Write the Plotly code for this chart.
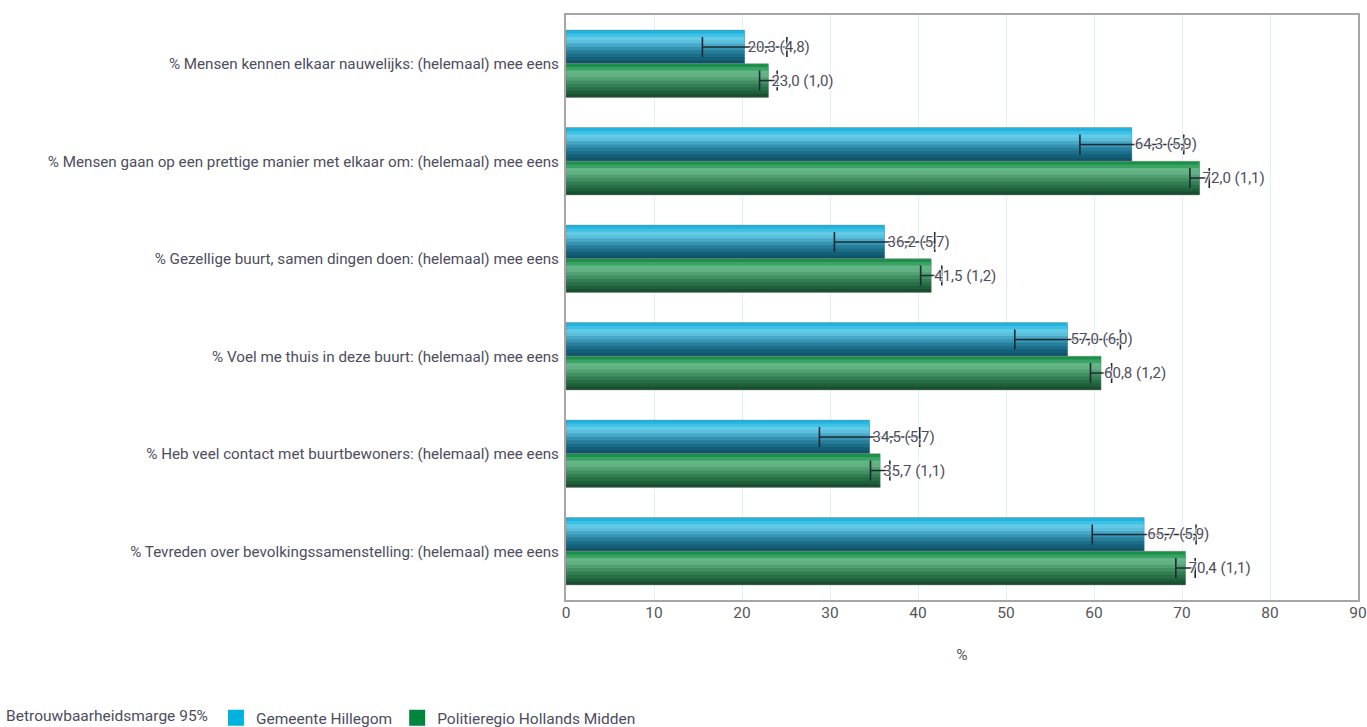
import plotly.graph_objects as go

categories = [
    "% Mensen kennen elkaar nauwelijks: (helemaal) mee eens",
    "% Mensen gaan op een prettige manier met elkaar om: (helemaal) mee eens",
    "% Gezellige buurt, samen dingen doen: (helemaal) mee eens",
    "% Voel me thuis in deze buurt: (helemaal) mee eens",
    "% Heb veel contact met buurtbewoners: (helemaal) mee eens",
    "% Tevreden over bevolkingssamenstelling: (helemaal) mee eens",
]
hillegom_values = [20.3, 64.3, 36.2, 57.0, 34.5, 65.7]
hillegom_margin = [4.8, 5.9, 5.7, 6.0, 5.7, 5.9]
hm_values = [23.0, 72.0, 41.5, 60.8, 35.7, 70.4]
hm_margin = [1.0, 1.1, 1.2, 1.2, 1.1, 1.1]
x_ticks = [0, 10, 20, 30, 40, 50, 60, 70, 80, 90]

FONT = "Roboto, sans-serif"
TXT = "#4d4d5c"
HALO = ("1px 1px 1px rgba(255,255,255,0.85), -1px -1px 1px rgba(255,255,255,0.85), "
        "1px -1px 1px rgba(255,255,255,0.85), -1px 1px 1px rgba(255,255,255,0.85)")

# gradient approximation (top -> bottom) for each series
blue_grad = ["#1db5df", "#3fc0e4", "#62cbe8", "#5bbfdc", "#46a8c6", "#3592b0",
             "#267e9b", "#1b6d88", "#145f78", "#0f546b"]
green_grad = ["#1a9148", "#3aa265", "#63b686", "#62b083", "#51a073", "#418f63",
              "#337f54", "#286f47", "#1f603b", "#184f30"]

HALF = 0.345  # height of each series' bar in category units


def fmt(v):
    return f"{v:.1f}".replace(".", ",")


fig = go.Figure()


def add_series(name, values, margins, grad, sign_top, legend_color):
    n = len(grad)
    strip = HALF / n
    top = -HALF if sign_top else 0.0
    for k, col in enumerate(grad):
        start = k * strip
        w = min(strip * 1.8, HALF - start)
        fig.add_trace(go.Bar(
            y=categories, x=values, orientation="h",
            offset=top + start, width=w,
            marker=dict(color=col, line=dict(width=0)),
            showlegend=False, hoverinfo="skip",
        ))
    # outline + error bars
    fig.add_trace(go.Bar(
        y=categories, x=values, orientation="h", name=name,
        offset=top, width=HALF,
        marker=dict(color="rgba(0,0,0,0)", line=dict(color="rgba(120,120,120,0.45)", width=1)),
        error_x=dict(type="data", array=margins, visible=True, color="#1f2b30",
                     thickness=1.6, width=10),
        showlegend=False,
    ))


def add_labels(values, margins, sign_top):
    top = -HALF if sign_top else 0.0
    fig.add_trace(go.Bar(
        y=categories, x=values, orientation="h",
        offset=top, width=HALF,
        marker=dict(color="rgba(0,0,0,0)", line=dict(width=0)),
        text=[f"{fmt(v)} ({fmt(m)})" for v, m in zip(values, margins)],
        textposition="outside", cliponaxis=False,
        textfont=dict(family=FONT, size=15, color=TXT, shadow=HALO),
        showlegend=False, hoverinfo="skip",
    ))


def add_legend(name, legend_color):
    fig.add_trace(go.Scatter(
        x=[None], y=[None], mode="markers", name=name,
        marker=dict(color=legend_color, symbol="square", size=16),
        showlegend=True,
    ))


add_series("Gemeente Hillegom", hillegom_values, hillegom_margin, blue_grad, True, "#00b2dd")
add_series("Politieregio Hollands Midden", hm_values, hm_margin, green_grad, False, "#00853f")
add_labels(hillegom_values, hillegom_margin, True)
add_labels(hm_values, hm_margin, False)
add_legend("Gemeente Hillegom", "#00b2dd")
add_legend("Politieregio Hollands Midden", "#00853f")

fig.update_layout(
    width=1367, height=727,
    barmode="overlay",
    paper_bgcolor="white", plot_bgcolor="white",
    margin=dict(l=566, r=9, t=15, b=127, autoexpand=False),
    font=dict(family=FONT, size=15, color=TXT),
    xaxis=dict(
        range=[0, 90], tickvals=x_ticks, showgrid=True, gridcolor="#dcf1f9", gridwidth=1,
        showline=True, linecolor="#a6a6a6", linewidth=2, mirror=True,
        zeroline=False, ticks="", ticklabelstandoff=-3, automargin=False,
        tickfont=dict(size=15.5, color="#555"),
        title=dict(text="%", font=dict(size=15.5, color="#555"), standoff=29),
    ),
    yaxis=dict(
        categoryorder="array", categoryarray=categories, autorange="reversed",
        showline=True, linecolor="#a6a6a6", linewidth=2, mirror=True,
        showgrid=False, ticks="", ticklabelstandoff=2, automargin=False,
        tickfont=dict(size=15.2, color=TXT),
    ),
    legend=dict(
        orientation="h", xref="container", yref="container",
        x=0.003, y=0.012, xanchor="left", yanchor="middle",
        title=dict(text="Betrouwbaarheidsmarge 95%", side="left",
                   font=dict(size=15.5, color=TXT)),
        font=dict(size=15.5, color=TXT),
        traceorder="normal",
    ),
)

fig.write_html("out.html", config={"displayModeBar": False},
               post_script="document.body.style.margin='0';document.body.style.overflow='hidden';")
